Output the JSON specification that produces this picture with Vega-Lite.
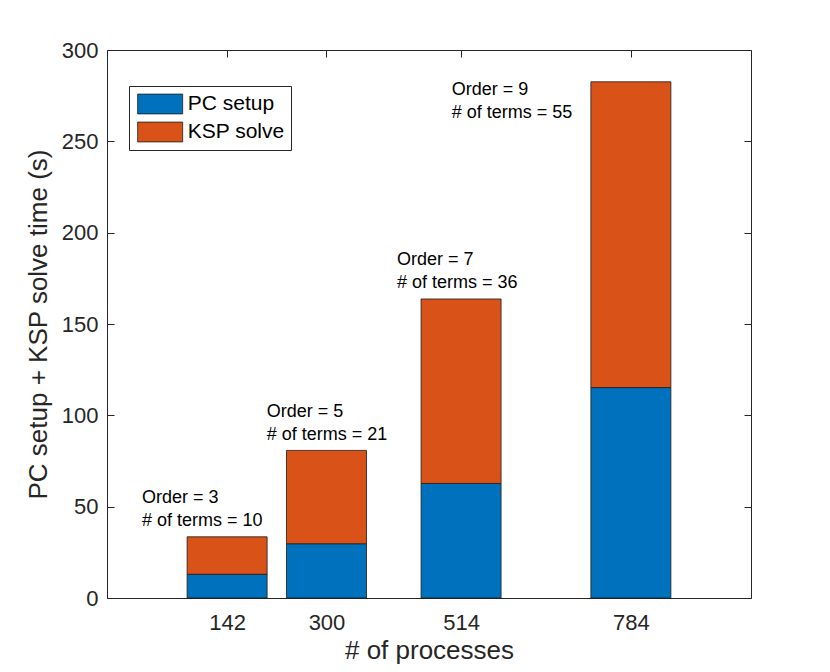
{
  "$schema": "https://vega.github.io/schema/vega-lite/v6.json",
  "width": 644,
  "height": 548,
  "autosize": {"type": "none"},
  "padding": {"left": 107, "top": 50, "right": 79, "bottom": 74},
  "background": "white",
  "datasets": {
    "times": [
      {"processes": 142, "part": "PC setup", "time": 13.0},
      {"processes": 142, "part": "KSP solve", "time": 20.5},
      {"processes": 300, "part": "PC setup", "time": 29.7},
      {"processes": 300, "part": "KSP solve", "time": 51.1},
      {"processes": 514, "part": "PC setup", "time": 62.7},
      {"processes": 514, "part": "KSP solve", "time": 101.0},
      {"processes": 784, "part": "PC setup", "time": 115.2},
      {"processes": 784, "part": "KSP solve", "time": 167.4}
    ],
    "notes": [
      {"px": 6.6, "py": 52.2, "label": ["Order = 3", "# of terms = 10"]},
      {"px": 205, "py": 99.1, "label": ["Order = 5", "# of terms = 21"]},
      {"px": 412, "py": 182.2, "label": ["Order = 7", "# of terms = 36"]},
      {"px": 499, "py": 275.3, "label": ["Order = 9", "# of terms = 55"]}
    ]
  },
  "layer": [
    {
      "data": {"name": "times"},
      "mark": {"type": "bar", "width": 80, "stroke": "#1a1a1a", "strokeWidth": 0.8},
      "encoding": {
        "x": {
          "field": "processes",
          "type": "quantitative",
          "title": "# of processes",
          "scale": {"domain": [-49, 975], "nice": false, "zero": false, "padding": 0},
          "axis": {"values": [142, 300, 514, 784], "labelPadding": 21, "titlePadding": 4}
        },
        "y": {
          "field": "time",
          "type": "quantitative",
          "stack": "zero",
          "title": "PC setup + KSP solve time (s)",
          "scale": {"domain": [0, 300], "nice": false},
          "axis": {"values": [0, 50, 100, 150, 200, 250, 300], "labelPadding": 16, "titlePadding": 10}
        },
        "color": {
          "field": "part",
          "type": "nominal",
          "scale": {"domain": ["PC setup", "KSP solve"], "range": ["#0072BD", "#D95319"]},
          "legend": {
            "orient": "none",
            "legendX": 22,
            "legendY": 36,
            "title": null,
            "symbolType": "M-0.83,-0.88H3.17V0.88H-0.83Z",
            "symbolSize": 506,
            "symbolStrokeColor": "#1a1a1a",
            "symbolStrokeWidth": 0.8,
            "symbolOpacity": 1,
            "labelFontSize": 21,
            "labelColor": "black",
            "labelOffset": 28.7,
            "strokeColor": "#262626",
            "fillColor": "white",
            "padding": 6,
            "rowPadding": 4
          }
        },
        "order": {"field": "part", "sort": "descending"}
      }
    },
    {
      "data": {"name": "notes"},
      "mark": {"type": "text", "align": "left", "baseline": "alphabetic", "fontSize": 18, "lineHeight": 23, "color": "black"},
      "encoding": {
        "x": {
          "field": "px",
          "type": "quantitative",
          "scale": {"domain": [-49, 975], "nice": false, "zero": false, "padding": 0},
          "axis": {"orient": "top", "values": [142, 300, 514, 784], "labels": false, "title": null}
        },
        "y": {
          "field": "py",
          "type": "quantitative",
          "scale": {"domain": [0, 300], "nice": false},
          "axis": {"orient": "right", "values": [0, 50, 100, 150, 200, 250, 300], "labels": false, "title": null}
        },
        "text": {"field": "label"}
      }
    }
  ],
  "resolve": {"axis": {"x": "independent", "y": "independent"}},
  "config": {
    "font": "Liberation Sans",
    "view": {"stroke": "#262626", "strokeWidth": 1},
    "axis": {
      "grid": false,
      "domain": false,
      "ticks": true,
      "tickSize": -7,
      "tickColor": "#262626",
      "tickWidth": 1,
      "labelFontSize": 22,
      "labelColor": "#262626",
      "titleFontSize": 26,
      "titleFontWeight": "normal",
      "titleColor": "#262626"
    },
    "text": {"font": "Liberation Sans"}
  }
}
